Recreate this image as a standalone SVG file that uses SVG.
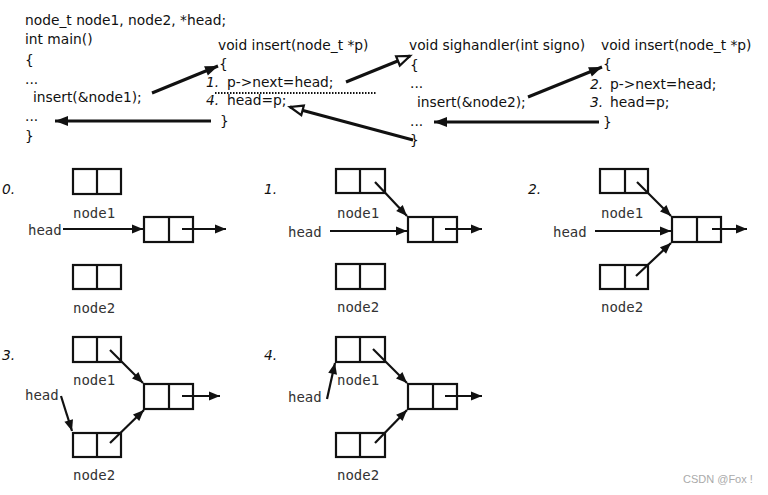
<svg xmlns="http://www.w3.org/2000/svg" width="768" height="495" viewBox="0 0 768 495">
<style>
.code{font-family:"DejaVu Sans","Liberation Sans",sans-serif;font-size:13.8px;fill:#111}
.it{font-style:italic}
.lbl{font-family:"DejaVu Sans Mono","Liberation Mono",monospace;font-size:14px;fill:#333}
.box{fill:#fff;stroke:#111;stroke-width:2.2}
.ln{stroke:#111;stroke-width:2.2;fill:none}
.big{stroke-width:3}
.fa{marker-end:url(#fa)}
.fb{marker-end:url(#fb)}
.oa{marker-end:url(#oa)}
.wm{font-family:"Liberation Sans",sans-serif;font-size:11px;fill:#aaa}
</style>
<defs>
<marker id="fa" markerUnits="userSpaceOnUse" markerWidth="12" markerHeight="10" refX="11" refY="5" orient="auto" overflow="visible">
<path d="M0,0.5 L11,5 L0,9.5 z" fill="#111"/>
</marker>
<marker id="fb" markerUnits="userSpaceOnUse" markerWidth="14" markerHeight="11" refX="13" refY="5.5" orient="auto" overflow="visible">
<path d="M0,0.5 L13,5.5 L0,10.5 z" fill="#111"/>
</marker>
<marker id="oa" markerUnits="userSpaceOnUse" markerWidth="15" markerHeight="12" refX="14" refY="6" orient="auto" overflow="visible">
<path d="M1,1 L14,6 L1,11 z" fill="#fff" stroke="#111" stroke-width="2.2"/>
</marker>
</defs>
<rect width="768" height="495" fill="#fff"/>

<g id="code-main">
<text class="code" x="25" y="25">node_t node1, node2, *head;</text>
<text class="code" x="25" y="44">int main()</text>
<text class="code" x="25" y="65">{</text>
<text class="code" x="25" y="84">...</text>
<text class="code" x="33" y="102">insert(&amp;node1);</text>
<text class="code" x="25" y="121">...</text>
<text class="code" x="25" y="141">}</text>
</g>
<g id="code-insert1">
<text class="code" x="218" y="50">void insert(node_t *p)</text>
<text class="code" x="219" y="69">{</text>
<text class="code it" x="206" y="87">1.</text>
<text class="code" x="227" y="87">p-&gt;next=head;</text>
<line x1="215" y1="93" x2="376" y2="93" stroke="#111" stroke-width="1.8" stroke-dasharray="1.5,1.5"/>
<text class="code it" x="206" y="105">4.</text>
<text class="code" x="227" y="105">head=p;</text>
<text class="code" x="220" y="126">}</text>
</g>
<g id="code-sighandler">
<text class="code" x="409" y="50">void sighandler(int signo)</text>
<text class="code" x="410" y="70">{</text>
<text class="code" x="410" y="88">...</text>
<text class="code" x="417" y="107">insert(&amp;node2);</text>
<text class="code" x="410" y="126">...</text>
<text class="code" x="410" y="145">}</text>
</g>
<g id="code-insert2">
<text class="code" x="601" y="50">void insert(node_t *p)</text>
<text class="code" x="603" y="69">{</text>
<text class="code it" x="590" y="89">2.</text>
<text class="code" x="610" y="89">p-&gt;next=head;</text>
<text class="code it" x="590" y="107">3.</text>
<text class="code" x="610" y="107">head=p;</text>
<text class="code" x="603" y="127">}</text>
</g>

<g id="panel0">
<text class="code it" x="2" y="194">0.</text>
<g id="p0-node1"><rect class="box" x="73" y="169" width="48" height="25"/><line class="ln" x1="97" y1="169" x2="97" y2="194"/><text class="lbl" x="73" y="218">node1</text></g>
<g id="p0-head"><text class="lbl" x="28" y="235">head</text></g>
<g id="p0-mid"><rect class="box" x="144" y="217" width="49" height="25"/><line class="ln" x1="169" y1="217" x2="169" y2="242"/></g>
<g id="p0-node2"><rect class="box" x="73" y="265" width="48" height="24"/><line class="ln" x1="97" y1="265" x2="97" y2="289"/><text class="lbl" x="73" y="313">node2</text></g>
</g>
<g id="panel1">
<text class="code it" x="264" y="194">1.</text>
<g id="p1-node1"><rect class="box" x="336" y="169" width="49" height="24"/><line class="ln" x1="360" y1="169" x2="360" y2="193"/><text class="lbl" x="337" y="218">node1</text></g>
<g id="p1-head"><text class="lbl" x="288" y="237">head</text></g>
<g id="p1-mid"><rect class="box" x="408" y="217" width="49" height="25"/><line class="ln" x1="433" y1="217" x2="433" y2="242"/></g>
<g id="p1-node2"><rect class="box" x="336" y="264" width="49" height="25"/><line class="ln" x1="360" y1="264" x2="360" y2="289"/><text class="lbl" x="337" y="312">node2</text></g>
</g>
<g id="panel2">
<text class="code it" x="528" y="194">2.</text>
<g id="p2-node1"><rect class="box" x="600" y="169" width="48" height="24"/><line class="ln" x1="625" y1="169" x2="625" y2="193"/><text class="lbl" x="601" y="218">node1</text></g>
<g id="p2-head"><text class="lbl" x="553" y="237">head</text></g>
<g id="p2-mid"><rect class="box" x="672" y="217" width="49" height="25"/><line class="ln" x1="697" y1="217" x2="697" y2="242"/></g>
<g id="p2-node2"><rect class="box" x="600" y="265" width="48" height="24"/><line class="ln" x1="625" y1="265" x2="625" y2="289"/><text class="lbl" x="601" y="312">node2</text></g>
</g>
<g id="panel3">
<text class="code it" x="2" y="360">3.</text>
<g id="p3-node1"><rect class="box" x="73" y="337" width="48" height="25"/><line class="ln" x1="97" y1="337" x2="97" y2="362"/><text class="lbl" x="73" y="385">node1</text></g>
<g id="p3-head"><text class="lbl" x="25" y="400">head</text></g>
<g id="p3-mid"><rect class="box" x="144" y="384" width="49" height="25"/><line class="ln" x1="169" y1="384" x2="169" y2="409"/></g>
<g id="p3-node2"><rect class="box" x="73" y="433" width="48" height="24"/><line class="ln" x1="97" y1="433" x2="97" y2="457"/><text class="lbl" x="73" y="480">node2</text></g>
</g>
<g id="panel4">
<text class="code it" x="264" y="360">4.</text>
<g id="p4-node1"><rect class="box" x="336" y="337" width="49" height="25"/><line class="ln" x1="360" y1="337" x2="360" y2="362"/><text class="lbl" x="337" y="385">node1</text></g>
<g id="p4-head"><text class="lbl" x="288" y="402">head</text></g>
<g id="p4-mid"><rect class="box" x="408" y="384" width="49" height="25"/><line class="ln" x1="433" y1="384" x2="433" y2="409"/></g>
<g id="p4-node2"><rect class="box" x="336" y="433" width="49" height="24"/><line class="ln" x1="360" y1="433" x2="360" y2="457"/><text class="lbl" x="337" y="480">node2</text></g>
</g>

<g id="connectors">
<line class="ln big fb" x1="152" y1="93" x2="218" y2="66"/>
<line class="ln big fb" x1="211" y1="121" x2="55" y2="121"/>
<line class="ln big oa" x1="346" y1="82" x2="410" y2="56"/>
<line class="ln big oa" x1="413" y1="140" x2="290" y2="107"/>
<line class="ln big fb" x1="528" y1="97" x2="602" y2="67"/>
<line class="ln big fb" x1="599" y1="122" x2="434" y2="122"/>

<line class="ln fa" x1="63" y1="229" x2="143" y2="229"/>
<line class="ln fa" x1="182" y1="229" x2="226" y2="229"/>

<line class="ln fa" x1="330" y1="231" x2="407" y2="231"/>
<line class="ln fa" x1="445" y1="229" x2="482" y2="229"/>
<line class="ln fa" x1="375" y1="182" x2="407" y2="216"/>

<line class="ln fa" x1="595" y1="231" x2="671" y2="231"/>
<line class="ln fa" x1="712" y1="229" x2="747" y2="229"/>
<line class="ln fa" x1="637" y1="182" x2="671" y2="216"/>
<line class="ln fa" x1="636" y1="276" x2="671" y2="243"/>

<line class="ln fa" x1="61" y1="396" x2="72" y2="431"/>
<line class="ln fa" x1="182" y1="396" x2="220" y2="396"/>
<line class="ln fa" x1="110" y1="350" x2="143" y2="383"/>
<line class="ln fa" x1="110" y1="443" x2="144" y2="410"/>

<line class="ln fa" x1="327" y1="399" x2="335" y2="363"/>
<line class="ln fa" x1="445" y1="396" x2="482" y2="396"/>
<line class="ln fa" x1="373" y1="349" x2="407" y2="383"/>
<line class="ln fa" x1="375" y1="443" x2="407" y2="410"/>
</g>
<text class="wm" x="683" y="483">CSDN @Fox !</text>
</svg>
